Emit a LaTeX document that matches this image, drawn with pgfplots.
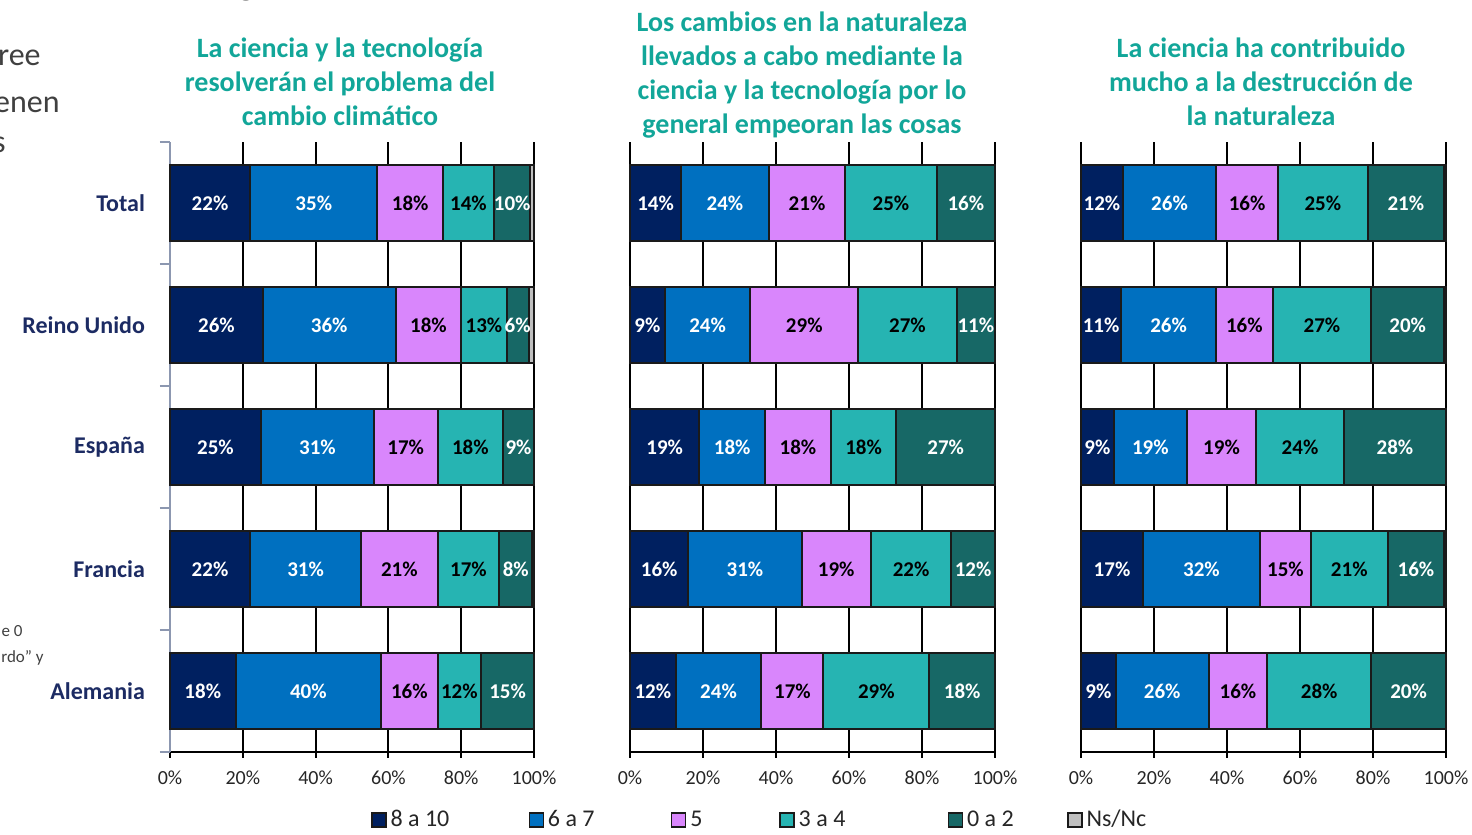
\documentclass[border=0pt]{standalone}
\usepackage{pgfplots}
\pgfplotsset{compat=1.18}
\usepackage{pgfplotstable}
\usepackage{fontspec}
\setmainfont{Carlito}

\definecolor{cA}{HTML}{002060}
\definecolor{cB}{HTML}{0070C0}
\definecolor{cC}{HTML}{D986FC}
\definecolor{cD}{HTML}{26B4B2}
\definecolor{cE}{HTML}{176866}
\definecolor{cF}{HTML}{BFBFBF}
\definecolor{edge}{HTML}{1A1A1A}
\definecolor{ttl}{HTML}{12A699}
\definecolor{navy}{HTML}{1C2B63}
\definecolor{axgray}{HTML}{8C97B0}
\definecolor{tickc}{HTML}{262626}
\definecolor{fragc}{HTML}{404040}

% pos: 4=Total, 3=Reino Unido, 2=España, 1=Francia, 0=Alemania
\pgfplotstableread{
pos a b c d e f la lb lc ld le
4 22 35 18 14 10 1 22 35 18 14 10
3 25.5 36.5 18 12.5 6 1.5 26 36 18 13 6
2 25 31 17.5 18 8.5 0 25 31 17 18 9
1 22 30.5 21 17 9 0.5 22 31 21 17 8
0 18 40 15.5 12 14.5 0 18 40 16 12 15
}\dataI
\pgfplotstableread{
pos a b c d e f la lb lc ld le
4 14 24 21 25 16 0 14 24 21 25 16
3 9.5 23.5 29.5 27 10.5 0 9 24 29 27 11
2 19 18 18 18 27 0 19 18 18 18 27
1 16 31 19 22 12 0 16 31 19 22 12
0 12.5 23.5 17 29 18 0 12 24 17 29 18
}\dataII
\pgfplotstableread{
pos a b c d e f la lb lc ld le
4 11.5 25.5 17 24.5 21 0.5 12 26 16 25 21
3 11 26 15.5 27 20 0.5 11 26 16 27 20
2 9 20 19 24 28 0 9 19 19 24 28
1 17 32 14 21 15.5 0.5 17 32 15 21 16
0 9.5 25.5 16 28.5 20.5 0 9 26 16 28 20
}\dataIII

\pgfplotsset{
  panel/.style={
    xbar stacked, scale only axis, width=182.5pt, height=305pt,
    xmin=0, xmax=100, ymin=-0.5, ymax=4.5, bar width=38pt,
    xtick={0,20,40,60,80,100},
    xticklabel={\pgfmathprintnumber{\tick}\%},
    /pgf/number format/assume math mode=true,
    xmajorgrids, major x grid style={black, line width=1pt},
    axis x line*=bottom,
    x axis line style={black, line width=1pt, -},
    tick align=outside, major tick length=3pt,
    xtick style={black, line width=1pt},
    xticklabel style={font=\fontsize{10}{12}\selectfont, text=tickc, yshift=-3pt},
    clip=false,
    legend image code/.code={\draw[##1, draw=edge, line width=0.7pt] (0pt,-3.5pt) rectangle (7pt,3.5pt);},
  },
  seg/.style n args={3}{
    fill=#1, draw=edge, line width=1pt,
    nodes near coords={\pgfplotspointmeta\%},
    point meta=explicit symbolic,
    nodes near coords align={center},
    every node near coord/.append style={
      font=\fontsize{10.5}{12}\selectfont\bfseries, text=#3, inner sep=0pt},
  },
  nsc/.style={fill=cF, draw=edge, line width=1pt},
}

\begin{document}
\begin{tikzpicture}
\useasboundingbox (0,0) rectangle (736pt,-417.5pt);

% cut-off slide text on the left
\node[anchor=base east, inner sep=0pt, font=\fontsize{16}{19}\selectfont, text=fragc] at (20.5pt,-32.5pt) {ree};
\node[anchor=base east, inner sep=0pt, font=\fontsize{16}{19}\selectfont, text=fragc] at (30pt,-56pt) {enen};
\node[anchor=base east, inner sep=0pt, font=\fontsize{16}{19}\selectfont, text=fragc] at (3pt,-76pt) {s};
\node[anchor=base east, inner sep=0pt, font=\fontsize{16}{19}\selectfont, text=fragc] at (127pt,2pt) {g};
\node[anchor=base east, inner sep=0pt, font=\fontsize{8.5}{10}\selectfont, text=fragc] at (11.5pt,-318pt) {e 0};
\node[anchor=base east, inner sep=0pt, font=\fontsize{8.5}{10}\selectfont, text=fragc] at (22pt,-331pt) {rdo” y};

% titles
\node[anchor=north, align=center, inner sep=0pt, font=\fontsize{14}{17}\selectfont\bfseries, text=ttl] at (170pt,-18.5pt)
  {La ciencia y la tecnología\\resolverán el problema del\\cambio climático};
\node[anchor=north, align=center, inner sep=0pt, font=\fontsize{14}{17}\selectfont\bfseries, text=ttl] at (401pt,-5.5pt)
  {Los cambios en la naturaleza\\llevados a cabo mediante la\\ciencia y la tecnología por lo\\general empeoran las cosas};
\node[anchor=north, align=center, inner sep=0pt, font=\fontsize{14}{17}\selectfont\bfseries, text=ttl] at (630.5pt,-18.5pt)
  {La ciencia ha contribuido\\mucho a la destrucción de\\la naturaleza};

% panel 1
\begin{axis}[panel, at={(85pt,-71pt)}, anchor=north west, width=182pt,
  axis y line*=left, y axis line style={axgray, line width=1.2pt, -},
  ytick={0,1,2,3,4}, yticklabels={Alemania,Francia,España,Reino Unido,Total},
  minor ytick={-0.5,0.5,1.5,2.5,3.5,4.5},
  every major y tick/.style={draw=none},
  every minor y tick/.style={draw=axgray, line width=1.2pt},
  minor tick length=5pt,
  yticklabel style={font=\fontsize{12}{14}\selectfont\bfseries, text=navy, xshift=-6pt},
  legend style={at={(rel axis cs:0.535,-0.1115)}, anchor=west, draw=none, fill=none,
    legend columns=6, font=\fontsize{12}{14}\selectfont, text=tickc,
    /tikz/every even column/.append style={column sep=0pt}},
]
\addplot[seg={cA}{a}{white}] table[x=a, y=pos, meta=la] {\dataI};
\addlegendentry{\makebox[67pt][l]{8 a 10}}
\addplot[seg={cB}{b}{white}] table[x=b, y=pos, meta=lb] {\dataI};
\addlegendentry{\makebox[59.5pt][l]{6 a 7}}
\addplot[seg={cC}{c}{black}] table[x=c, y=pos, meta=lc] {\dataI};
\addlegendentry{\makebox[42.5pt][l]{5}}
\addplot[seg={cD}{d}{black}] table[x=d, y=pos, meta=ld] {\dataI};
\addlegendentry{\makebox[72.5pt][l]{3 a 4}}
\addplot[seg={cE}{e}{white}] table[x=e, y=pos, meta=le] {\dataI};
\addlegendentry{\makebox[48pt][l]{0 a 2}}
\addplot[nsc] table[x=f, y=pos] {\dataI};
\addlegendentry{Ns/Nc}
\end{axis}

% panel 2
\begin{axis}[panel, at={(315pt,-71pt)}, anchor=north west,
  axis y line=none, ytick=\empty]
\addplot[seg={cA}{a}{white}] table[x=a, y=pos, meta=la] {\dataII};
\addplot[seg={cB}{b}{white}] table[x=b, y=pos, meta=lb] {\dataII};
\addplot[seg={cC}{c}{black}] table[x=c, y=pos, meta=lc] {\dataII};
\addplot[seg={cD}{d}{black}] table[x=d, y=pos, meta=ld] {\dataII};
\addplot[seg={cE}{e}{white}] table[x=e, y=pos, meta=le] {\dataII};
\addplot[nsc] table[x=f, y=pos] {\dataII};
\end{axis}

% panel 3
\begin{axis}[panel, at={(540.5pt,-71pt)}, anchor=north west,
  axis y line=none, ytick=\empty]
\addplot[seg={cA}{a}{white}] table[x=a, y=pos, meta=la] {\dataIII};
\addplot[seg={cB}{b}{white}] table[x=b, y=pos, meta=lb] {\dataIII};
\addplot[seg={cC}{c}{black}] table[x=c, y=pos, meta=lc] {\dataIII};
\addplot[seg={cD}{d}{black}] table[x=d, y=pos, meta=ld] {\dataIII};
\addplot[seg={cE}{e}{white}] table[x=e, y=pos, meta=le] {\dataIII};
\addplot[nsc] table[x=f, y=pos] {\dataIII};
\end{axis}
\end{tikzpicture}
\end{document}
